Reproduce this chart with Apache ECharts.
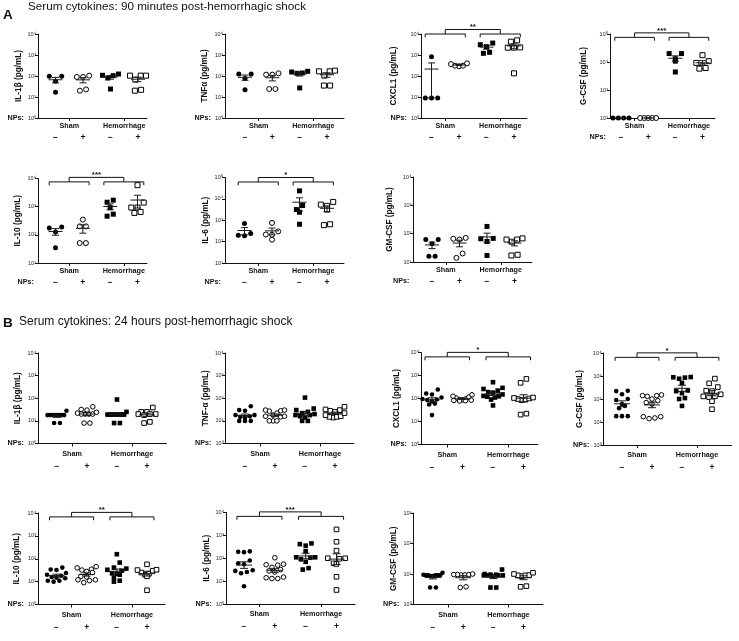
<!DOCTYPE html>
<html><head><meta charset="utf-8">
<script src="https://cdn.jsdelivr.net/npm/echarts@6.0.0/dist/echarts.min.js"></script>
<style>html,body{margin:0;padding:0;background:#fff}#c{width:739px;height:641px}</style>
</head><body><div id="c"></div>
<script>
// ---------------- DATA (pg/mL) ----------------
const groupLabels = ['Sham', 'Hemorrhage'];
const npsLabels = ['\u2212', '+', '\u2212', '+'];
const supDigits = ['\u2070', '\u00b9', '\u00b2', '\u00b3', '\u2074', '\u2075'];
const titleA = 'Serum cytokines: 90 minutes post-hemorrhagic shock';
const titleB = 'Serum cytokines: 24 hours post-hemorrhagic shock';

// each: [Sham NPs-, Sham NPs+, Hemorrhage NPs-, Hemorrhage NPs+]
const A_IL1B  = [[96, 96, 56, 17], [90, 90, 104, 20, 23], [124, 104, 80, 108, 24], [104, 104, 67, 104, 20, 22]];
const A_TNF   = [[124, 124, 77, 22], [116, 116, 134, 24, 24], [167, 139, 134, 155, 27], [180, 167, 104, 167, 35, 35]];
const A_CXCL1 = [[830, 9, 9, 9], [370, 310, 290, 310, 400], [3100, 2500, 3700, 1200, 1340], [4300, 5000, 2230, 2230, 2300, 134]];
const A_GCSF  = [[100, 100, 100, 100], [100, 100, 100, 100, 100], [20000, 20000, 13000, 10700, 4400], [17500, 10700, 9300, 7000, 5800, 6100]];
const A_IL10  = [[175, 190, 126, 35], [347, 200, 200, 51, 51], [1440, 1700, 930, 460, 540], [5800, 1400, 930, 930, 600, 650]];
const A_IL6   = [[700, 237, 200, 187], [750, 300, 215, 210, 123], [23700, 4900, 3160, 2370, 650], [7200, 4700, 5400, 3160, 590, 650]];
const A_GMCSF = [[62, 62, 44, 16, 16], [66, 62, 71, 14, 20], [180, 66, 68, 53, 17], [68, 62, 52, 62, 17, 18]];

const B_IL1B  = [[28, 18, 18, 18, 18, 18, 18, 18, 18, 8, 8], [42, 32, 30, 24, 22, 20, 20, 20, 20, 8, 8],
                 [88, 25, 19, 19, 19, 19, 19, 19, 19, 19, 8, 8], [39, 25, 25, 20, 20, 20, 18, 8, 9]];
const B_TNF   = [[44, 30, 28, 18, 18, 16, 15, 14, 10, 10, 10], [30, 28, 27, 30, 22, 18, 16, 16, 15, 10, 10, 10],
                 [107, 35, 30, 25, 22, 20, 18, 18, 16, 14, 10, 10], [42, 32, 30, 28, 25, 22, 18, 16, 15, 15, 14]];
const B_CXCL1 = [[245, 165, 150, 110, 95, 90, 85, 75, 60, 55, 19], [145, 125, 115, 105, 95, 90, 88, 85, 82, 80, 78],
                 [510, 290, 260, 220, 190, 180, 150, 130, 125, 120, 110, 90, 50], [710, 480, 110, 105, 100, 95, 90, 85, 20, 22]];
const B_GCSF  = [[230, 220, 160, 100, 90, 60, 50, 40, 18, 18, 18], [150, 140, 140, 130, 100, 85, 70, 60, 17, 14, 15, 17],
                 [900, 850, 760, 880, 500, 235, 220, 180, 110, 100, 50], [770, 480, 330, 220, 230, 160, 130, 130, 120, 80, 36]];
const B_IL10  = [[41, 34, 32, 24, 20, 18, 16, 15, 14, 11, 10, 11], [45, 40, 35, 32, 28, 25, 17, 16, 12, 11, 12, 9],
                 [158, 68, 41, 37, 33, 30, 23, 22, 20, 15, 11, 10], [57, 33, 32, 30, 25, 22, 20, 17, 4.2]];
const B_IL6   = [[190, 185, 200, 80, 60, 55, 30, 25, 22, 28, 6], [105, 55, 50, 52, 40, 32, 28, 25, 14, 13, 13, 15],
                 [445, 415, 355, 205, 110, 110, 70, 105, 90, 32, 37], [1820, 525, 215, 100, 95, 100, 56, 60, 15.5, 4.1]];
const B_GMCSF = [[11, 9.5, 9, 9, 9, 9, 9, 8.5, 8.5, 3.6, 3.6], [10, 9.6, 9.6, 9.6, 9.3, 9.3, 3.6, 3.8],
                 [14, 10, 9.5, 9.5, 9, 9, 9, 9, 8.5, 3.6, 3.6], [11, 10, 9.2, 9, 9, 8.5, 3.8, 4]];

// ---------------- LAYOUT ----------------
const SECTION = {
  A: {sym: 5, meanHalf: 7, capHalf: 3.5, npsOffset: 19.5, labMargin: 5, stat: 'arith', spread: 8},
  B: {sym: 4.6, meanHalf: 8, capHalf: 4, npsOffset: 23, labMargin: 7, stat: 'geo', spread: 9.5}
};
const PANELS = [
  {sec:'A', d:A_IL1B,  name:'IL-1\u03b2 (pg/mL)', L:38,  T:34,  R:147, B:118, g1:55.5, g4:138,  y:[0,4], gap:15.5},
  {sec:'A', d:A_TNF,   name:'TNF\u03b1 (pg/mL)',  L:225, T:34,  R:344, B:118, g1:245,  g4:327,  y:[0,4], gap:16.5},
  {sec:'A', d:A_CXCL1, name:'CXCL1 (pg/mL)',      L:421, T:34,  R:527, B:118, g1:431.5,g4:514,  y:[0,4], gap:23.5, br:['**', 4.0]},
  {sec:'A', d:A_GCSF,  name:'G-CSF (pg/mL)',      L:610, T:34,  R:715, B:118, g1:621,  g4:702.5,y:[2,5], gap:22.5, br:['***', 4.88]},
  {sec:'A', d:A_IL10,  name:'IL-10 (pg/mL)',      L:38,  T:178.5,R:147,B:263, g1:55.5, g4:137.5,y:[1,4], gap:16.5, br:['***', 3.88]},
  {sec:'A', d:A_IL6,   name:'IL-6 (pg/mL)',       L:225, T:177.5,R:344,B:263, g1:244.5,g4:327,  y:[1,5], gap:15.5, br:['*', 4.79]},
  {sec:'A', d:A_GMCSF, name:'GM-CSF (pg/mL)',     L:413.5,T:177,R:532, B:262, g1:432,  g4:514.5,y:[1,4], gap:19.5},
  {sec:'B', d:B_IL1B,  name:'IL-1\u03b2 (pg/mL)', L:38,  T:353, R:166.5,B:443.5,g1:57,  g4:147,  y:[0,4], gap:16.5},
  {sec:'B', d:B_TNF,   name:'TNF-\u03b1 (pg/mL)', L:225.5,T:353,R:354, B:443.5,g1:245,  g4:335,  y:[0,4], gap:15.5},
  {sec:'B', d:B_CXCL1, name:'CXCL1 (pg/mL)',      L:421, T:352.5,R:538,B:444.5,g1:432,  g4:523.5,y:[0,4], gap:20.5, br:['*', 3.81]},
  {sec:'B', d:B_GCSF,  name:'G-CSF (pg/mL)',      L:603.5,T:353,R:731.5,B:445, g1:622,  g4:712,  y:[0,4], gap:19.5, br:['*', 3.81]},
  {sec:'B', d:B_IL10,  name:'IL-10 (pg/mL)',      L:38,  T:513, R:165, B:604.5, g1:56.5, g4:147,  y:[0,4], gap:17.5, br:['**', 3.83]},
  {sec:'B', d:B_IL6,   name:'IL-6 (pg/mL)',       L:226, T:512.5,R:355,B:604,  g1:244,  g4:336.5,y:[0,4], gap:15, br:['***', 3.83]},
  {sec:'B', d:B_GMCSF, name:'GM-CSF (pg/mL)',     L:413.5,T:513,R:543, B:604.5, g1:433,  g4:523.5,y:[0,3], gap:15.5}
];

const FONT = '"Liberation Sans", Arial, Helvetica, sans-serif';
const INK = '#111';

function lg(v) { return Math.log10(v); }

function groupStats(vals, mode, ymin) {
  const n = vals.length;
  if (mode === 'geo') {
    const l = vals.map(lg);
    const m = l.reduce((a, b) => a + b, 0) / n;
    const sd = Math.sqrt(l.reduce((a, b) => a + (b - m) * (b - m), 0) / (n - 1));
    const se = sd / Math.sqrt(n);
    return [m, m - se, m + se];
  }
  const m = vals.reduce((a, b) => a + b, 0) / n;
  const sd = Math.sqrt(vals.reduce((a, b) => a + (b - m) * (b - m), 0) / (n - 1));
  const se = sd / Math.sqrt(n);
  const lo = m - se > Math.pow(10, ymin) ? lg(m - se) : ymin;
  return [lg(m), lo, lg(m + se)];
}

// simple beeswarm: rows of near-equal values spread symmetrically,
// lowest values of a row take the central slots
function swarm(vals, center, unitPx, pxPerDec, sym, spread) {
  const idx = vals.map((v, i) => i).sort((a, b) => vals[b] - vals[a]);
  const rows = [];
  let cur = null;
  idx.forEach(i => {
    const l = lg(vals[i]);
    if (cur && (cur.top - l) * pxPerDec < sym * 1.15) cur.items.push(i);
    else { cur = {top: l, items: [i]}; rows.push(cur); }
  });
  const out = [];
  rows.forEach(r => {
    const n = r.items.length;
    const step = n > 1 ? Math.min(sym + 1.2, 2 * spread / (n - 1)) : 0;
    const slots = [];
    for (let k = 0; k < n; k++) slots.push((k - (n - 1) / 2) * step);
    slots.sort((a, b) => Math.abs(a) - Math.abs(b) || a - b);
    const asc = r.items.slice().sort((a, b) => vals[a] - vals[b]);
    asc.forEach((i, k) => out.push([center + slots[k] / unitPx, lg(vals[i])]));
  });
  return out;
}

const option = {
  animation: false,
  backgroundColor: '#fff',
  textStyle: {fontFamily: FONT},
  title: [
    {text: 'A', left: 3, top: 8, padding: 0, textStyle: {fontSize: 13.5, fontWeight: 'bold', color: INK, fontFamily: FONT}},
    {text: titleA, left: 28, top: 1, padding: 0, textStyle: {fontSize: 11.7, fontWeight: 'normal', color: INK, fontFamily: FONT}},
    {text: 'B', left: 3, top: 316, padding: 0, textStyle: {fontSize: 13.5, fontWeight: 'bold', color: INK, fontFamily: FONT}},
    {text: titleB, left: 19, top: 316, padding: 0, textStyle: {fontSize: 12, fontWeight: 'normal', color: INK, fontFamily: FONT}}
  ],
  grid: [], xAxis: [], yAxis: [], series: []
};

PANELS.forEach((p, gi) => {
  const S = SECTION[p.sec];
  const unitPx = (p.g4 - p.g1) / 3;
  const xmin = 1 - (p.g1 - p.L) / unitPx;
  const xmax = xmin + (p.R - p.L) / unitPx;
  const pxPerDec = (p.B - p.T) / (p.y[1] - p.y[0]);
  option.grid.push({left: p.L, top: p.T, width: p.R - p.L, height: p.B - p.T, outerBoundsMode: 'none', containLabel: false});
  const xi = option.xAxis.length;
  option.xAxis.push({
    type: 'value', gridIndex: gi, min: xmin, max: xmax, position: 'bottom',
    splitLine: {show: false},
    axisLine: {show: true, onZero: false, lineStyle: {color: INK, width: 1}},
    axisTick: {show: true, inside: false, length: 3, customValues: [1.5, 3.5], lineStyle: {color: INK, width: 1}},
    axisLabel: {show: true, customValues: [1.5, 3.5], margin: S.labMargin, color: INK, fontSize: 7.2, fontWeight: 'bold', fontFamily: FONT,
      formatter: v => (v < 2.5 ? groupLabels[0] : groupLabels[1])}
  });
  option.xAxis.push({
    type: 'value', gridIndex: gi, min: xmin, max: xmax, position: 'bottom', offset: S.npsOffset,
    splitLine: {show: false}, axisLine: {show: false}, axisTick: {show: false},
    axisLabel: {show: true, customValues: [1, 2, 3, 4], margin: 0, verticalAlign: 'middle', color: INK, fontSize: 8.5, fontWeight: 'bold', fontFamily: FONT,
      formatter: v => npsLabels[Math.round(v) - 1]},
    name: 'NPs:', nameLocation: 'start', nameGap: 4,
    nameTextStyle: {color: INK, fontSize: 7.2, fontWeight: 'bold', fontFamily: FONT, align: 'right', verticalAlign: 'middle'}
  });
  option.yAxis.push({
    type: 'value', gridIndex: gi, min: p.y[0], max: p.y[1], interval: 1,
    splitLine: {show: false},
    axisLine: {show: true, onZero: false, lineStyle: {color: INK, width: 1}},
    axisTick: {show: true, inside: false, length: 3, lineStyle: {color: INK, width: 1}},
    axisLabel: {show: true, margin: 2, color: '#222', fontSize: 5.5, fontFamily: FONT,
      formatter: v => '10' + supDigits[Math.round(v)]},
    name: p.name, nameLocation: 'middle', nameRotate: 90, nameGap: p.gap,
    nameTextStyle: {color: INK, fontSize: 8.2, fontWeight: 'bold', fontFamily: FONT}
  });

  const statRows = [];
  p.d.forEach((vals, k) => {
    const center = k + 1;
    const isSham = k < 2, filled = (k % 2 === 0);
    option.series.push({
      type: 'scatter', xAxisIndex: xi, yAxisIndex: gi, z: 2,
      symbol: isSham ? 'circle' : 'rect', symbolSize: S.sym,
      itemStyle: filled ? {color: '#000', borderWidth: 0, opacity: 1}
                        : {color: '#fff', borderColor: '#000', borderWidth: 1, opacity: 1},
      emphasis: {disabled: true},
      data: swarm(vals, center, unitPx, pxPerDec, S.sym, S.spread)
    });
    const st = groupStats(vals, S.stat, p.y[0]);
    statRows.push([center, st[0], st[1], st[2]]);
  });
  option.series.push({
    type: 'custom', xAxisIndex: xi, yAxisIndex: gi, z: 3, clip: false,
    encode: {x: 0, y: [1, 2, 3]},
    data: statRows,
    renderItem: (params, api) => {
      const x = api.value(0);
      const pm = api.coord([x, api.value(1)]);
      const pl = api.coord([x, api.value(2)]);
      const ph = api.coord([x, api.value(3)]);
      const st = {stroke: '#1a1a1a', lineWidth: 1, fill: null};
      return {type: 'group', children: [
        {type: 'line', shape: {x1: pm[0] - S.meanHalf, y1: pm[1], x2: pm[0] + S.meanHalf, y2: pm[1]}, style: st},
        {type: 'line', shape: {x1: pl[0], y1: pl[1], x2: ph[0], y2: ph[1]}, style: st},
        {type: 'line', shape: {x1: pl[0] - S.capHalf, y1: pl[1], x2: pl[0] + S.capHalf, y2: pl[1]}, style: st},
        {type: 'line', shape: {x1: ph[0] - S.capHalf, y1: ph[1], x2: ph[0] + S.capHalf, y2: ph[1]}, style: st}
      ]};
    }
  });
  if (p.br) {
    const label = p.br[0];
    option.series.push({
      type: 'custom', xAxisIndex: xi, yAxisIndex: gi, z: 4, clip: false,
      data: [[2.5, p.br[1]]],
      renderItem: (params, api) => {
        const base = api.value(1);
        const ext = 0.23;
        const a1 = api.coord([1 - ext, base]), a2 = api.coord([2 + ext, base]);
        const b1 = api.coord([3 - ext, base]), b2 = api.coord([4 + ext, base]);
        const y = a1[1], leg = 3.4, up = 4.5;
        const ca = (a1[0] + a2[0]) / 2, cb = (b1[0] + b2[0]) / 2;
        const st = {stroke: INK, lineWidth: 1, fill: null};
        const pl = pts => ({type: 'polyline', shape: {points: pts}, style: st});
        return {type: 'group', children: [
          pl([[a1[0], y + leg], [a1[0], y], [a2[0], y], [a2[0], y + leg]]),
          pl([[b1[0], y + leg], [b1[0], y], [b2[0], y], [b2[0], y + leg]]),
          pl([[ca, y], [ca, y - up], [cb, y - up], [cb, y]]),
          {type: 'text', x: (ca + cb) / 2, y: y - up + 1.5,
           style: {text: label, fill: INK, fontSize: 8, fontWeight: 'bold', fontFamily: FONT, align: 'center', verticalAlign: 'bottom'}}
        ]};
      }
    });
  }
});

const chart = echarts.init(document.getElementById('c'), null, {renderer: 'canvas', width: 739, height: 641});
chart.setOption(option);
</script>
</body></html>
